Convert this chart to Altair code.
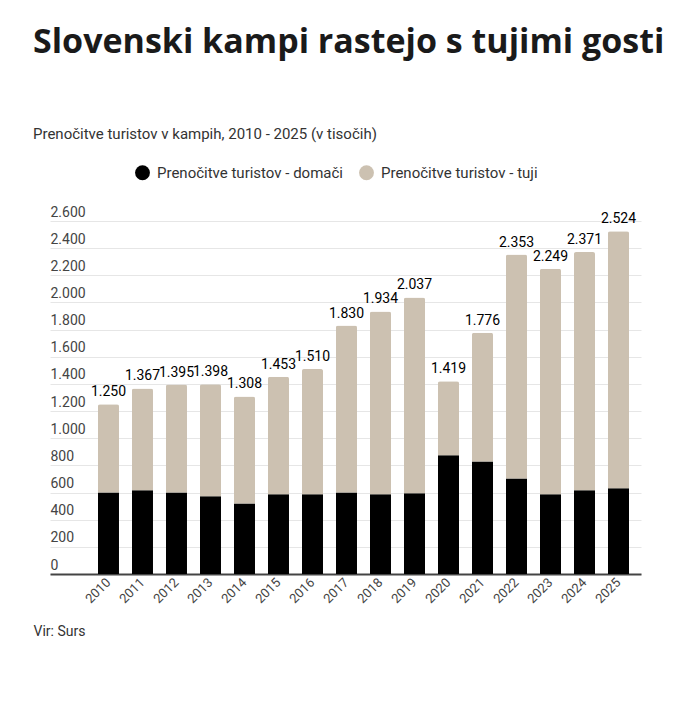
import altair as alt
import pandas as pd

years = [str(y) for y in range(2010, 2026)]
# totals (labels above bars), thousands
total = [1250, 1367, 1395, 1398, 1308, 1453, 1510, 1830, 1934, 2037,
         1419, 1776, 2353, 2249, 2371, 2524]
# domestic share
domestic = [601, 616, 601, 572, 520, 587, 587, 601, 587, 594,
            874, 829, 704, 587, 616, 631]
series = ["Prenočitve turistov - domači", "Prenočitve turistov - tuji"]
colors = ["#000000", "#ccc1b1"]

rows = []
for y, t, d in zip(years, total, domestic):
    rows.append({"year": y, "series": series[0], "value": d, "order": 0})
    rows.append({"year": y, "series": series[1], "value": t - d, "order": 1})
df = pd.DataFrame(rows)

lab = pd.DataFrame({"year": years, "total": total})
lab["label"] = lab["total"].map(lambda v: f"{v:,}".replace(",", "."))

x = alt.X("year:N", title="Vir: Surs",
          scale=alt.Scale(paddingInner=0.382, paddingOuter=0.882, align=0.8),
          axis=alt.Axis(labelAngle=-45, labelAlign="right", labelBaseline="middle",
                        labelFontSize=13, labelColor="#444", labelPadding=6,
                        ticks=False, domainColor="#444", domainWidth=2,
                        titleAnchor="start", titleAlign="left", titleX=-17, titleY=50,
                        titleFontSize=14, titleFontWeight="normal", titleColor="#333"))

yaxis = alt.Axis(values=list(range(0, 2601, 200)), domain=False, ticks=False,
                 labelAlign="left", labelBaseline="bottom", labelPadding=0,
                 labelOffset=-2, labelFontSize=14, labelColor="#444",
                 labelOverlap=False, gridColor="#e6e6e6",
                 labelExpr="replace(format(datum.value, ','), ',', '.')")
yscale = alt.Scale(domain=[0, 2600])

bars = alt.Chart(df).mark_bar(cornerRadiusTopLeft=2, cornerRadiusTopRight=2).encode(
    x=x,
    y=alt.Y("value:Q", stack="zero", title=None, scale=yscale, axis=yaxis),
    color=alt.Color("series:N", scale=alt.Scale(domain=series, range=colors),
                    legend=alt.Legend(title=None, orient="none", direction="horizontal",
                                      legendX=85, legendY=-56, symbolType="circle",
                                      symbolSize=220, symbolStrokeWidth=0,
                                      labelFontSize=15, labelColor="#333", labelLimit=0,
                                      columnPadding=16, labelOffset=7)),
    order=alt.Order("order:Q"),
)

text = alt.Chart(lab).mark_text(baseline="bottom", dy=-5, fontSize=14, color="#000").encode(
    x=alt.X("year:N"),
    y=alt.Y("total:Q", title=None, scale=yscale, axis=yaxis),
    text="label:N",
)

chart = alt.layer(bars, text).properties(
    width=591, height=353,
    padding={"left": 25, "top": 18, "right": 10, "bottom": 10},
    title=alt.TitleParams(
        "Slovenski kampi rastejo s tujimi gosti",
        subtitle="Prenočitve turistov v kampih, 2010 - 2025 (v tisočih)",
        anchor="start", font="Open Sans", fontSize=34, fontWeight="bold",
        color="#1a1a1a", subtitleFont="Roboto", subtitleFontSize=15,
        subtitleColor="#333", subtitlePadding=67, offset=23,
    ),
).configure(font="Roboto").configure_view(stroke=None)

chart.save("out.html", embed_options={"renderer": "svg", "actions": False})
